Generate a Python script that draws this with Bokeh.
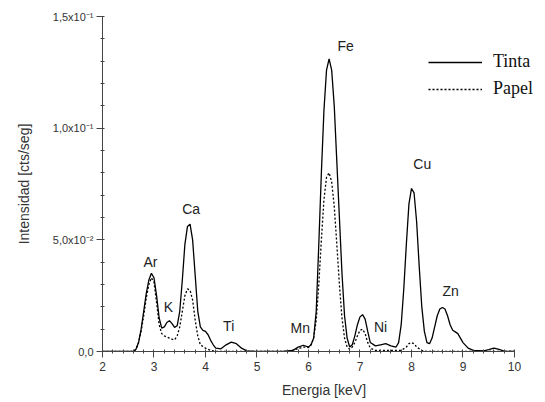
from bokeh.plotting import figure
from bokeh.models import FixedTicker, Legend, LegendItem, ColumnDataSource, Range1d
from bokeh.core.properties import value
from bokeh.embed import file_html
from bokeh.resources import INLINE

# ---- data ----
tinta_x = [2.0, 2.6, 2.65, 2.7, 2.75, 2.8, 2.85, 2.9, 2.95, 3.0, 3.05, 3.1, 3.15, 3.2, 3.25, 3.3,
           3.35, 3.4, 3.45, 3.5, 3.55, 3.6, 3.65, 3.7, 3.75, 3.8, 3.85, 3.9, 3.95, 4.0, 4.05, 4.1,
           4.15, 4.2, 4.3, 4.4, 4.5, 4.6, 4.7, 4.8, 5.0, 5.5, 5.7, 5.8, 5.9, 6.0, 6.05, 6.1, 6.15,
           6.2, 6.25, 6.3, 6.35, 6.4, 6.45, 6.5, 6.55, 6.6, 6.65, 6.7, 6.75, 6.8, 6.85, 6.9, 6.95,
           7.0, 7.05, 7.1, 7.15, 7.2, 7.3, 7.4, 7.5, 7.6, 7.7, 7.75, 7.8, 7.85, 7.9, 7.95, 8.0,
           8.05, 8.1, 8.15, 8.2, 8.25, 8.3, 8.35, 8.4, 8.45, 8.5, 8.55, 8.6, 8.65, 8.7, 8.75, 8.8,
           8.85, 8.9, 8.95, 9.0, 9.1, 9.2, 9.4, 9.5, 9.6, 9.7, 9.8, 10.0]
tinta_y = [0.0, 0.0, 0.001, 0.004, 0.010, 0.018, 0.026, 0.032, 0.035, 0.033, 0.025, 0.015, 0.0105,
           0.011, 0.013, 0.0138, 0.0125, 0.0108, 0.0115, 0.018, 0.032, 0.048, 0.056, 0.057, 0.050,
           0.034, 0.018, 0.011, 0.0095, 0.009, 0.0075, 0.005, 0.003, 0.0015, 0.0012, 0.003, 0.0042,
           0.0035, 0.0015, 0.0003, 0.0, 0.0, 0.0005, 0.002, 0.0028, 0.002, 0.003, 0.006, 0.018,
           0.048, 0.080, 0.108, 0.126, 0.131, 0.126, 0.110, 0.085, 0.060, 0.035, 0.016, 0.006,
           0.002, 0.003, 0.007, 0.012, 0.0155, 0.0165, 0.0145, 0.009, 0.004, 0.0025, 0.003, 0.0035,
           0.0025, 0.002, 0.004, 0.012, 0.028, 0.048, 0.066, 0.073, 0.071, 0.058, 0.038, 0.020,
           0.009, 0.004, 0.0035, 0.006, 0.011, 0.016, 0.019, 0.0197, 0.019, 0.016, 0.012, 0.0095,
           0.0088, 0.008, 0.006, 0.004, 0.0015, 0.0005, 0.0003, 0.0008, 0.0015, 0.001, 0.0002, 0.0]

papel_x = [2.0, 2.6, 2.65, 2.7, 2.75, 2.8, 2.85, 2.9, 2.95, 3.0, 3.05, 3.1, 3.15, 3.2, 3.25, 3.3,
           3.35, 3.4, 3.45, 3.5, 3.55, 3.6, 3.65, 3.7, 3.75, 3.8, 3.85, 3.9, 4.0, 4.1, 4.2, 5.6,
           5.8, 5.9, 6.0, 6.05, 6.1, 6.15, 6.2, 6.25, 6.3, 6.35, 6.4, 6.45, 6.5, 6.55, 6.6, 6.65,
           6.7, 6.75, 6.8, 6.85, 6.9, 6.95, 7.0, 7.05, 7.1, 7.15, 7.2, 7.3, 7.8, 7.9, 7.95, 8.0,
           8.05, 8.1, 8.2, 8.3, 10.0]
papel_y = [0.0, 0.0, 0.001, 0.004, 0.009, 0.016, 0.024, 0.030, 0.033, 0.031, 0.022, 0.012, 0.008,
           0.007, 0.0065, 0.006, 0.0055, 0.0052, 0.007, 0.011, 0.018, 0.025, 0.028, 0.0275, 0.023,
           0.014, 0.007, 0.003, 0.0015, 0.0005, 0.0, 0.0, 0.0012, 0.002, 0.0018, 0.003, 0.006,
           0.014, 0.030, 0.050, 0.068, 0.078, 0.080, 0.076, 0.065, 0.048, 0.030, 0.015, 0.006,
           0.002, 0.001, 0.002, 0.004, 0.007, 0.0095, 0.010, 0.008, 0.004, 0.0015, 0.0005, 0.0005,
           0.002, 0.0035, 0.004, 0.0035, 0.002, 0.0005, 0.0, 0.0]

peak_names = ["Ar", "K", "Ca", "Ti", "Mn", "Fe", "Ni", "Cu", "Zn"]
peak_label_x = [2.93, 3.28, 3.72, 4.45, 5.84, 6.72, 7.40, 8.21, 8.76]
peak_label_y = [0.040, 0.020, 0.064, 0.0116, 0.0103, 0.137, 0.0108, 0.0838, 0.0273]

x_ticks = [2, 3, 4, 5, 6, 7, 8, 9, 10]
y_ticks = [0.0, 0.05, 0.10, 0.15]
y_tick_labels = ["0,0", "5,0x10\u207b\u00b2", "1,0x10\u207b\u00b9", "1,5x10\u207b\u00b9"]

# ---- figure ----
# frame runs to the right edge of the page so the legend is not clipped;
# the x axis itself is bounded to 2..10 as in the reference.
p = figure(width=545, height=402, output_backend="svg", toolbar_location=None,
           x_range=Range1d(2, 10.602), y_range=Range1d(0, 0.15),
           min_border_left=102, min_border_right=0, min_border_top=16, min_border_bottom=51)
p.outline_line_color = None
p.grid.visible = False
p.background_fill_color = "white"
p.border_fill_color = "white"

r_t = p.line(tinta_x, tinta_y, line_color="black", line_width=1.3)
r_p = p.line(papel_x, papel_y, line_color="black", line_width=1.3, line_dash="2 2")

src = ColumnDataSource(dict(x=peak_label_x, y=peak_label_y, t=peak_names))
p.text("x", "y", text="t", source=src, text_align="center", text_baseline="middle",
       text_font=value("Liberation Sans"), text_font_size="14px", text_color="#222222")

for ax in (p.xaxis[0], p.yaxis[0]):
    ax.axis_line_color = "#444444"
    ax.major_tick_line_color = "#444444"
    ax.minor_tick_line_color = "#444444"
    ax.major_tick_out = 6
    ax.major_tick_in = 0
    ax.minor_tick_out = 2
    ax.minor_tick_in = 2
    ax.major_label_text_font = "Liberation Sans"
    ax.major_label_text_color = "#333333"
    ax.axis_label_text_font = "Liberation Sans"
    ax.axis_label_text_font_style = "normal"
    ax.axis_label_text_color = "#333333"
    ax.axis_label_text_font_size = "14px"

p.xaxis.bounds = (2, 10)
p.xaxis.ticker = FixedTicker(ticks=x_ticks, minor_ticks=[2 + 0.2 * i for i in range(41)])
p.xaxis.major_label_text_font_size = "12px"
p.xaxis.axis_label = "Energia [keV]"
p.xaxis.major_label_standoff = 4
p.xaxis.axis_label_standoff = 8

p.yaxis.ticker = FixedTicker(ticks=y_ticks, minor_ticks=[0.01 * i for i in range(16)])
p.yaxis.major_label_overrides = {t: l for t, l in zip(y_ticks, y_tick_labels)}
p.yaxis.major_label_text_font_size = "11px"
p.yaxis.axis_label = "Intensidad [cts/seg]"
p.yaxis.major_label_standoff = 3
p.yaxis.axis_label_standoff = 18

legend = Legend(items=[LegendItem(label="Tinta", renderers=[r_t]),
                       LegendItem(label="Papel", renderers=[r_p])],
                location=(326, 252), orientation="vertical")
legend.border_line_color = None
legend.background_fill_alpha = 0
legend.padding = 0
legend.margin = 0
legend.spacing = 6
legend.glyph_width = 54
legend.glyph_height = 20
legend.label_height = 20
legend.label_standoff = 11
legend.label_text_font = "Liberation Serif"
legend.label_text_font_size = "18px"
legend.label_text_color = "#111111"
p.add_layout(legend, "center")

open("out.html", "w").write(file_html(p, INLINE))
